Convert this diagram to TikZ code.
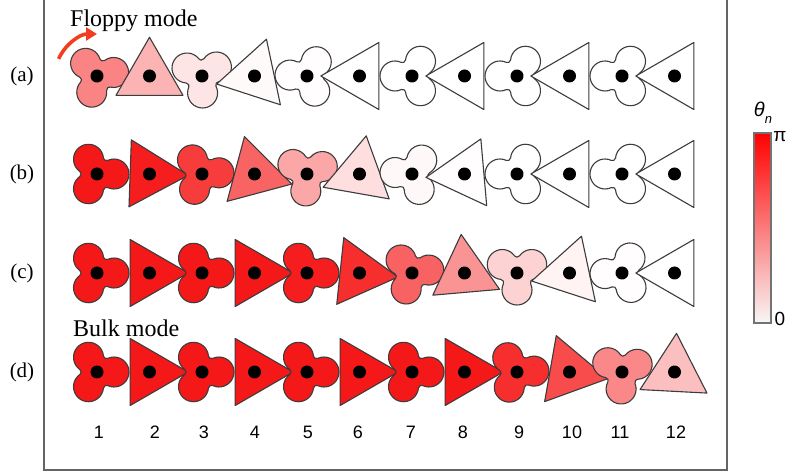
\documentclass[tikz,border=0pt]{standalone}
\usepackage{fontspec}
\setmainfont{Liberation Serif}
\setsansfont{Liberation Sans}
\usetikzlibrary{arrows.meta}

\definecolor{unitred}{RGB}{245,17,17}
\definecolor{edgegray}{RGB}{60,60,60}
\definecolor{framegray}{RGB}{100,100,100}
\definecolor{arrowred}{RGB}{240,62,30}
\definecolor{barwhite}{RGB}{248,246,246}

\tikzset{
  unitedge/.style={draw=edgegray, line width=1.1, line join=round},
  rowlabel/.style={font=\fontsize{21}{24}\selectfont, anchor=center},
  modelabel/.style={font=\fontsize{24}{28}\selectfont, anchor=base west, inner sep=0pt},
  numlabel/.style={font=\sffamily\fontsize{18}{20}\selectfont, anchor=center},
}

% three-lobed unit: centre x, centre y, lobe angle, percentage of red
\newcommand{\trefoilunit}[4]{%
  \begin{scope}[shift={(#1,#2)},rotate=#3]
    \filldraw[unitedge, fill=unitred!#4!white] (10.69,-13.61)
      arc[start angle=-114.88,end angle=114.88,radius=15]
      arc[start angle=294.88,end angle=185.12,radius=3]
      arc[start angle=5.12,end angle=234.88,radius=15]
      arc[start angle=414.88,end angle=305.12,radius=3]
      arc[start angle=125.12,end angle=354.88,radius=15]
      arc[start angle=534.88,end angle=425.12,radius=3] -- cycle;
    \fill (0,0) circle[radius=6.5];
  \end{scope}}

% triangular unit: centre x, centre y, vertex angle, percentage of red
\newcommand{\triunit}[4]{%
  \begin{scope}[shift={(#1,#2)},rotate=#3]
    \filldraw[unitedge, fill=unitred!#4!white] (0:38.7) -- (120:38.7) -- (240:38.7) -- cycle;
    \fill (0,0) circle[radius=6.5];
  \end{scope}}

% one chain of twelve units at height #1
\newcommand{\unitrow}[2]{%
  \foreach \n/\ang/\p in {#2}{%
    \pgfmathsetmacro{\xx}{97+52.5*(\n-1)}%
    \ifodd\n\relax \trefoilunit{\xx}{#1}{\ang}{\p}\else \triunit{\xx}{#1}{\ang}{\p}\fi
  }}

\begin{document}
\begin{tikzpicture}[x=1pt,y=1pt]
\useasboundingbox (0,0) rectangle (787,474);

% frame
\draw[framegray, line width=1.4] (44,480) -- (44,4) -- (727,4) -- (727,480);

% chains
\unitrow{398}{1/12/52, 2/90/32, 3/32/11, 4/192/2, 5/57/1, 6/180/0,
  7/60/0, 8/180/0, 9/60/0, 10/180/0, 11/60/0, 12/180/0}
\unitrow{300}{1/0/97, 2/-2/95, 3/4/82, 4/-15/65, 5/26/37, 6/80/14,
  7/55/3, 8/185/1, 9/60/0, 10/180/0, 11/60/0, 12/180/0}
\unitrow{201}{1/0/97, 2/0/97, 3/0/97, 4/0/97, 5/0/95, 6/-6/88,
  7/10/66, 8/95/45, 9/30/19, 10/72/5, 11/62/1, 12/180/0}
\unitrow{102}{1/0/97, 2/0/97, 3/0/97, 4/0/97, 5/0/97, 6/0/97,
  7/0/97, 8/0/97, 9/3/88, 10/-10/75, 11/27/50, 12/87/27}

% row labels
\node[rowlabel] (la) at (22,398) {(a)};
\node[rowlabel] (lb) at (22,300) {(b)};
\node[rowlabel] (lc) at (22,201) {(c)};
\node[rowlabel] (ld) at (22,102) {(d)};

% mode labels and rotation arrow
\node[modelabel] (floppy) at (70,447) {Floppy mode};
\node[modelabel] (bulk) at (73,137) {Bulk mode};
\coordinate (pivot) at (97,398);
\draw[arrowred, line width=3.6, -{Triangle[length=11,width=13]}]
  (pivot) ++(156:42) arc[start angle=156, end angle=90, radius=42];

% unit numbers
\foreach \k/\x in {1/99, 2/155, 3/204, 4/255, 5/308, 6/358, 7/411, 8/463,
  9/519, 10/572, 11/620, 12/676}{
  \node[numlabel] (num\k) at (\x,42) {\k};
}

% colour bar
\shade[top color=red, bottom color=barwhite] (754,151) rectangle (771,341);
\draw[black!55, line width=1.1] (754,151) rectangle (771,341);
\node[font=\sffamily\itshape\fontsize{20}{22}\selectfont] (theta) at (763,361)
  {θ\raisebox{-0.35em}{\fontsize{13}{14}\selectfont n}};
\node[font=\sffamily\fontsize{19}{21}\selectfont] (pimark) at (780,337) {π};
\node[font=\sffamily\fontsize{19}{21}\selectfont] (zeromark) at (780,155) {0};
\end{tikzpicture}
\end{document}
